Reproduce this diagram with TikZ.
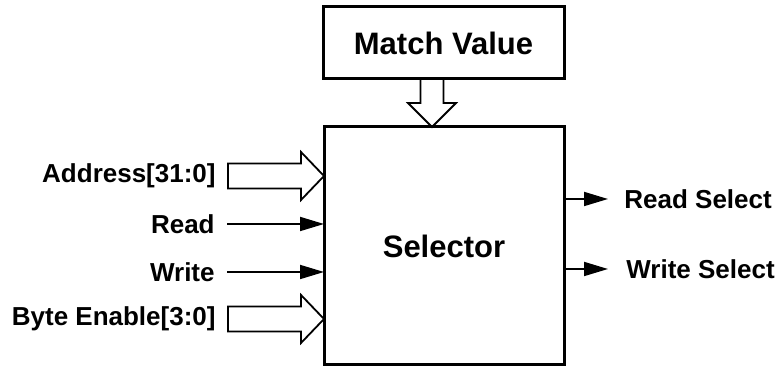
\documentclass[tikz,border=0pt]{standalone}
\usepackage{fontspec}
\setmainfont{Liberation Sans}
\usetikzlibrary{calc,arrows.meta}

\begin{document}
\begin{tikzpicture}[x=0.5pt,y=-0.5pt,
            box/.style={draw,line width=1.5pt,inner sep=0pt,outer sep=0pt},
            sig/.style={font=\fontsize{13}{15}\selectfont\bfseries,inner sep=0pt},
            wire/.style={line width=0.9pt,-{Triangle[length=12pt,width=7pt]}},
            bus/.style={draw,line width=0.9pt,line join=miter}
          ]
          \useasboundingbox (0,0) rectangle (778,368);

          \node[box,minimum width=120.5pt,minimum height=36pt,
                font=\fontsize{15.5}{18}\selectfont\bfseries] (match) at (443.5,43) {Match Value};
          \node[box,minimum width=120pt,minimum height=119pt,
                font=\fontsize{15.5}{18}\selectfont\bfseries] (sel) at (444,246) {Selector};

          \coordinate (mv) at (sel.north -| 432,0);
          \draw[bus] (mv) -- ++(-24,-24) -- ++(12.5,0) -- ++(0,-24) -- ++(23,0)
                -- ++(0,24) -- ++(12.5,0) -- cycle;

          % inputs
          \coordinate (addr) at (sel.west |- 0,176);
          \coordinate (be) at (sel.west |- 0,319);
          \draw[bus] (addr) -- ++(-23,-24) -- ++(0,11.5) -- ++(-73,0) -- ++(0,25)
                -- ++(73,0) -- ++(0,11.5) -- cycle;
          \draw[bus] (be) -- ++(-23,-24) -- ++(0,11.5) -- ++(-73,0) -- ++(0,25)
                -- ++(73,0) -- ++(0,11.5) -- cycle;
          \node[sig,anchor=east] (addrlbl) at ($(addr)+(-108,0)$) {Address[31:0]};
          \node[sig,anchor=east] (belbl) at ($(be)+(-108,0)$) {Byte Enable[3:0]};
          \node[sig,anchor=east] (rd) at (215,224) {Read};
          \node[sig,anchor=east] (wr) at (215,272) {Write};
          \draw[wire] ([xshift=6pt]rd.east) -- (rd -| sel.west);
          \draw[wire] ([xshift=6pt]wr.east) -- (wr -| sel.west);

          % outputs
          \coordinate (rsel) at (sel.east |- 0,199);
          \coordinate (wsel) at (sel.east |- 0,269);
          \node[sig,anchor=west] (rsellbl) at ($(rsel)+(60,0)$) {Read Select};
          \node[sig,anchor=west] (wsellbl) at ($(wsel)+(62,0)$) {Write Select};
          \draw[wire] (rsel) -- ([xshift=-8pt]rsellbl.west);
          \draw[wire] (wsel) -- ([xshift=-9pt]wsellbl.west);
\end{tikzpicture}
\end{document}
